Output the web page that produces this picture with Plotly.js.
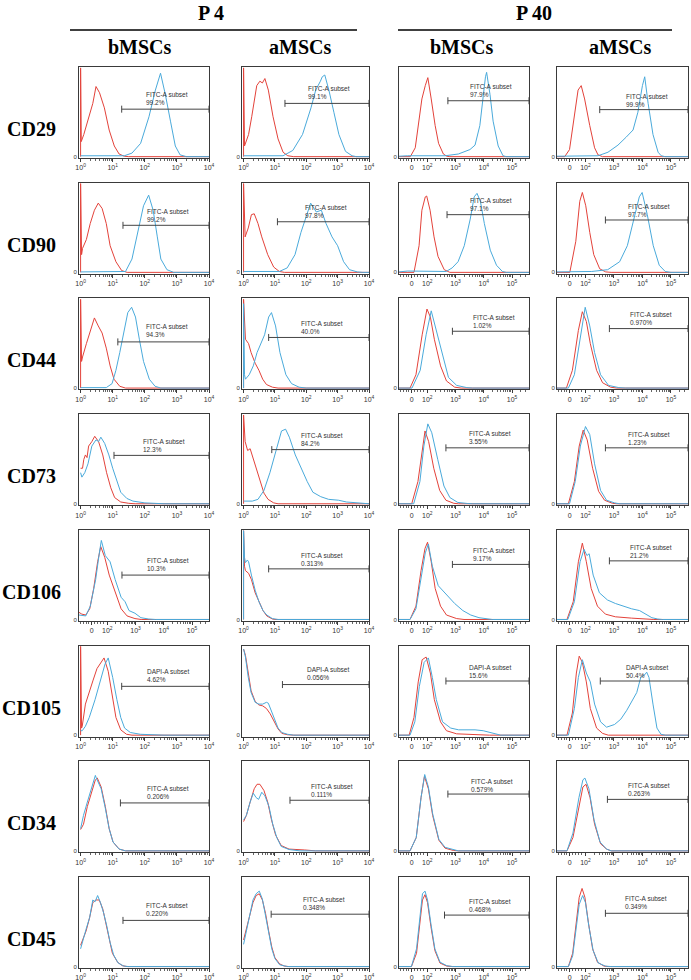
<!DOCTYPE html>
<html>
<head>
<meta charset="utf-8">
<script src="https://cdn.plot.ly/plotly-3.0.1.min.js"></script>
<style>
body { margin: 0; background: #fff; }
#chart { width: 691px; height: 980px; }
</style>
</head>
<body>
<div id="chart"></div>
<script>
var markers = ['CD29', 'CD90', 'CD44', 'CD73', 'CD106', 'CD105', 'CD34', 'CD45'];
var cells = ['bMSCs', 'aMSCs', 'bMSCs', 'aMSCs'];
var passages = ['P 4', 'P 40'];

// axis kind per panel: 'log' = 10^0..10^4, 'bi' = 0, 10^2..10^5
var scales = [
  ['log', 'log', 'bi', 'bi'],
  ['log', 'log', 'bi', 'bi'],
  ['log', 'log', 'bi', 'bi'],
  ['log', 'log', 'bi', 'bi'],
  ['bi', 'log', 'bi', 'bi'],
  ['log', 'log', 'bi', 'bi'],
  ['log', 'log', 'bi', 'bi'],
  ['log', 'log', 'bi', 'bi']
];

var gateNames = ['FITC-A subset', 'FITC-A subset', 'FITC-A subset', 'FITC-A subset',
  'FITC-A subset', 'DAPI-A subset', 'FITC-A subset', 'FITC-A subset'];

var percents = [
  ['99.2%', '99.1%', '97.9%', '99.9%'],
  ['99.2%', '97.8%', '97.1%', '97.7%'],
  ['94.3%', '40.0%', '1.02%', '0.970%'],
  ['12.3%', '84.2%', '3.55%', '1.23%'],
  ['10.3%', '0.313%', '9.17%', '21.2%'],
  ['4.62%', '0.056%', '15.6%', '50.4%'],
  ['0.206%', '0.111%', '0.579%', '0.263%'],
  ['0.220%', '0.348%', '0.468%', '0.349%']
];

// gate start (decades) and gate height (% of max count)
var gateFrom = [
  [1.28, 1.32, 2.73, 2.5],
  [1.32, 1.08, 2.7, 2.7],
  [1.16, 0.8, 2.89, 2.84],
  [1.04, 0.9, 2.66, 2.7],
  [2.52, 0.8, 2.89, 2.84],
  [1.28, 1.24, 2.66, 2.52],
  [1.24, 1.48, 2.73, 2.77],
  [1.32, 0.88, 2.61, 2.7]
];
var gateLevel = [
  [53.5, 60, 63, 53],
  [53, 57, 65, 59],
  [52, 57, 64, 67],
  [54.5, 61, 63, 63],
  [50, 57, 62, 66],
  [55, 57, 61, 61],
  [54, 57, 64, 58],
  [52, 59, 58, 60]
];
var labelX = [
  [1.96, 2.0, 3.44, 3.35],
  [2.0, 1.88, 3.44, 3.44],
  [1.96, 1.76, 3.53, 3.48],
  [1.88, 1.76, 3.39, 3.44],
  [3.35, 1.76, 3.53, 3.48],
  [2.0, 1.96, 3.39, 3.35],
  [2.0, 2.08, 3.48, 3.44],
  [1.96, 1.84, 3.39, 3.3]
];
var labelY = [
  [65, 72, 74, 63],
  [64, 68, 76, 70],
  [65, 68, 75, 78],
  [66, 72, 75, 74],
  [62, 68, 73, 77],
  [67, 69, 72, 72],
  [66, 68, 74, 69],
  [64, 71, 69, 72]
];

// histograms: flat lists of x (decades), count (% of max) pairs
var cd29Red = [
  [0,0, 0,100, 0.02,17, 0.1,25, 0.23,40, 0.38,60, 0.48,79, 0.59,72, 0.74,55, 0.89,30, 1.05,12, 1.2,3, 1.36,0.5, 1.5,0, 4,0],
  [0,0, 0,100, 0.03,12, 0.1,18, 0.16,25, 0.26,45, 0.34,65, 0.42,80, 0.52,85, 0.6,83, 0.68,88, 0.79,75, 0.94,45, 1.1,20, 1.26,5, 1.41,1, 1.6,0, 4,0],
  [1,0, 1.4,0, 1.575,10, 1.69,35, 1.81,65, 1.93,80, 2.02,89, 2.14,65, 2.28,35, 2.4,15, 2.57,3, 2.69,0.5, 2.8,0, 5.6,0],
  [1,0, 1.27,0, 1.44,8, 1.62,50, 1.74,75, 1.85,80, 1.97,65, 2.15,35, 2.32,10, 2.44,2, 2.6,0, 5.6,0]
];
var cd29Blue = [
  [0,1, 1.36,1, 1.6,4, 1.87,15, 2.13,45, 2.33,75, 2.49,94, 2.64,70, 2.8,40, 2.95,12, 3.1,2, 3.3,0, 4,0],
  [0,1, 1.26,1, 1.57,7, 1.88,25, 2.15,55, 2.3,75, 2.45,85, 2.51,90, 2.59,92, 2.72,75, 2.88,50, 3.04,25, 3.25,6, 3.46,1, 3.6,0, 4,0],
  [1,0.5, 1.3,1, 2.63,1, 3.1,3, 3.51,8, 3.69,13, 3.86,35, 3.98,70, 4.06,90, 4.1,95, 4.22,70, 4.33,40, 4.51,12, 4.68,1, 4.8,0, 5.6,0],
  [1,0.5, 2.44,1, 2.79,5, 3.14,13, 3.43,22, 3.67,30, 3.84,50, 4.0,80, 4.08,90, 4.2,60, 4.37,25, 4.55,5, 4.66,1, 4.8,0, 5.6,0]
];
var cd90Red = [
  [0,0, 0,100, 0.03,20, 0.06,27, 0.18,37, 0.3,55, 0.43,70, 0.55,78, 0.67,72, 0.8,55, 0.92,30, 1.1,12, 1.28,2, 1.45,0, 4,0],
  [0,0, 0,100, 0.05,40, 0.15,50, 0.25,65, 0.34,66, 0.46,55, 0.58,40, 0.77,20, 0.96,6, 1.14,1, 1.3,0, 4,0],
  [1,0, 1.53,0, 1.71,30, 1.81,70, 1.93,85, 1.98,86, 2.1,70, 2.24,40, 2.38,18, 2.6,3, 2.8,0, 5.6,0],
  [1,0, 1.45,0, 1.66,35, 1.8,80, 1.89,90, 2.01,75, 2.15,45, 2.29,20, 2.5,4, 2.71,0.5, 2.9,0, 5.6,0]
];
var cd90Blue = [
  [0,0.5, 1.4,1, 1.6,15, 1.77,45, 1.96,75, 2.12,87, 2.26,70, 2.39,40, 2.5,15, 2.69,3, 2.9,0, 4,0],
  [0,1, 1.14,1, 1.39,5, 1.64,20, 1.83,45, 2.01,65, 2.14,78, 2.32,68, 2.48,70, 2.63,55, 2.82,40, 3.0,30, 3.19,12, 3.38,3, 3.63,0.5, 3.8,0, 4,0],
  [1,0.5, 1.3,1.5, 2.67,1, 2.88,5, 3.09,12, 3.31,30, 3.52,60, 3.66,85, 3.76,89, 3.88,80, 4.02,55, 4.23,25, 4.45,8, 4.66,1, 4.8,0, 5.6,0],
  [1,0.5, 2.22,1, 2.78,3, 3.2,12, 3.47,30, 3.69,60, 3.89,85, 3.99,90, 4.17,65, 4.38,30, 4.59,8, 4.8,1, 5.0,0, 5.6,0]
];
var cd44Red = [
  [0,0, 0,100, 0.03,30, 0.06,35, 0.18,50, 0.31,65, 0.43,79, 0.55,70, 0.67,62, 0.8,45, 0.92,25, 1.04,10, 1.22,2, 1.4,0, 4,0],
  [0,0, 0,100, 0.06,55, 0.16,50, 0.24,40, 0.37,28, 0.49,20, 0.61,10, 0.73,4, 0.92,1, 1.1,0, 4,0],
  [1,0, 1.39,0, 1.6,15, 1.82,60, 1.99,89, 2.11,80, 2.25,55, 2.47,25, 2.68,8, 2.97,1, 3.2,0, 5.6,0],
  [1,0, 1.33,0, 1.54,20, 1.75,65, 1.89,86, 2.03,75, 2.17,50, 2.39,20, 2.6,6, 2.88,1, 3.1,0, 5.6,0]
];
var cd44Blue = [
  [0,0.5, 0.8,0.5, 0.98,5, 1.1,20, 1.22,40, 1.35,65, 1.47,85, 1.59,91, 1.71,80, 1.83,55, 1.96,30, 2.14,10, 2.32,2, 2.5,0, 4,0],
  [0,0, 0,95, 0.03,15, 0.06,10, 0.18,15, 0.31,25, 0.43,40, 0.55,50, 0.67,60, 0.8,80, 0.89,85, 1.02,70, 1.16,40, 1.35,15, 1.53,5, 1.77,1, 2.0,0, 4,0],
  [1,0, 1.46,0, 1.75,20, 1.96,60, 2.14,87, 2.32,65, 2.54,35, 2.75,12, 3.04,3, 3.4,0.5, 3.6,0, 5.6,0],
  [1,0, 1.4,0, 1.61,15, 1.82,55, 1.99,91, 2.15,70, 2.32,40, 2.53,15, 2.81,3, 3.17,0.5, 3.4,0, 5.6,0]
];
var cd73Red = [
  [0,40, 0.06,40, 0.1,50, 0.15,55, 0.2,52, 0.25,65, 0.35,70, 0.44,76, 0.56,70, 0.69,55, 0.81,35, 0.94,18, 1.06,7, 1.25,2, 1.5,0.5, 1.7,0, 4,0],
  [0,0, 0,100, 0.05,70, 0.13,60, 0.21,62, 0.3,52, 0.4,40, 0.53,25, 0.65,12, 0.78,5, 0.96,1, 1.1,0, 4,0],
  [1,0, 1.45,0, 1.67,25, 1.81,60, 1.92,82, 2.05,70, 2.23,40, 2.44,15, 2.66,4, 2.94,0.5, 3.1,0, 5.6,0],
  [1,0, 1.4,0, 1.61,25, 1.78,65, 1.92,83, 2.06,72, 2.25,40, 2.46,14, 2.67,4, 2.95,0.5, 3.1,0, 5.6,0]
];
var cd73Blue = [
  [0,35, 0.04,30, 0.13,35, 0.23,45, 0.35,65, 0.48,72, 0.56,70, 0.63,75, 0.75,68, 0.88,55, 1.0,40, 1.13,25, 1.25,13, 1.44,6, 1.63,3, 2.0,1, 2.38,0.3, 2.6,0, 4,0],
  [0,3, 0.28,3, 0.46,5, 0.65,15, 0.84,35, 1.03,60, 1.21,82, 1.34,84, 1.46,75, 1.65,55, 1.84,40, 2.03,25, 2.21,13, 2.46,8, 2.71,5, 3.03,4, 3.28,2, 3.65,1, 3.9,0.3, 4,0],
  [1,0, 1.52,0, 1.74,25, 1.88,65, 2.02,90, 2.16,80, 2.37,50, 2.59,20, 2.8,7, 3.08,1.5, 3.43,0.3, 3.6,0, 5.6,0],
  [1,0, 1.44,0, 1.64,25, 1.82,65, 2.0,87, 2.15,78, 2.32,45, 2.53,15, 2.74,4, 3.02,1, 3.2,0, 5.6,0]
];
var cd106Red = [
  [1,8, 1.1,6, 1.24,5, 1.38,12, 1.52,35, 1.66,65, 1.77,82, 1.91,70, 2.07,50, 2.28,30, 2.49,12, 2.7,4, 2.98,1, 3.2,0, 5.6,0],
  [0,0, 0,100, 0.03,60, 0.06,55, 0.16,52, 0.25,45, 0.37,30, 0.49,20, 0.62,10, 0.74,4, 0.92,0.5, 1.0,0, 4,0],
  [1,0, 1.39,0, 1.6,15, 1.78,55, 1.92,80, 2.01,87, 2.14,65, 2.28,35, 2.47,15, 2.68,5, 3.04,1, 3.3,0, 5.6,0],
  [1,0, 1.35,0, 1.57,20, 1.75,65, 1.89,86, 2.03,65, 2.2,35, 2.42,15, 2.7,6, 3.05,3, 3.62,1.5, 4.18,0.5, 4.4,0, 5.6,0]
];
var cd106Blue = [
  [1,5, 1.24,4, 1.4,15, 1.59,45, 1.72,75, 1.79,89, 1.93,72, 2.1,65, 2.28,45, 2.49,25, 2.63,20, 2.77,10, 2.98,7, 3.19,2, 3.47,0.5, 3.7,0, 5.6,0],
  [0,0, 0,100, 0.03,70, 0.06,64, 0.12,67, 0.16,65, 0.25,50, 0.37,33, 0.49,20, 0.62,10, 0.74,5, 0.92,1, 1.1,0, 4,0],
  [1,0, 1.39,0, 1.6,12, 1.79,50, 1.93,75, 2.04,85, 2.18,60, 2.39,38, 2.68,28, 2.97,18, 3.26,10, 3.54,5, 3.83,2, 4.12,0.5, 4.3,0, 5.6,0],
  [1,0, 1.38,0, 1.61,20, 1.81,65, 1.95,79, 2.05,72, 2.13,74, 2.27,50, 2.49,30, 2.77,22, 3.05,18, 3.34,15, 3.62,12, 3.9,10, 4.11,6, 4.33,2, 4.54,0.5, 4.7,0, 5.6,0]
];
var cd105Red = [
  [0,0, 0,100, 0.03,8, 0.05,10, 0.15,35, 0.27,50, 0.39,62, 0.51,75, 0.64,82, 0.73,87, 0.86,72, 0.98,45, 1.1,20, 1.25,6, 1.43,1, 1.6,0, 4,0],
  [0,97, 0.06,90, 0.15,70, 0.24,50, 0.37,38, 0.49,34, 0.61,33, 0.73,30, 0.85,24, 0.98,15, 1.1,7, 1.22,2, 1.4,0.5, 1.6,0, 4,0],
  [1,0, 1.36,0, 1.53,20, 1.68,60, 1.82,85, 1.96,88, 2.11,70, 2.25,40, 2.47,15, 2.68,5, 3.04,1.5, 3.98,0.5, 4.2,0, 5.6,0],
  [1,0, 1.35,0, 1.54,25, 1.68,70, 1.78,89, 1.89,82, 2.03,60, 2.17,30, 2.39,8, 2.6,2, 2.8,0, 5.6,0]
];
var cd105Blue = [
  [0,5, 0.05,5, 0.15,10, 0.27,20, 0.45,40, 0.64,65, 0.76,80, 0.86,87, 1.0,65, 1.13,40, 1.25,20, 1.37,8, 1.55,3, 1.86,1, 2.35,0.3, 2.6,0, 4,0],
  [0,97, 0.06,88, 0.15,65, 0.24,48, 0.37,37, 0.49,35, 0.61,35, 0.73,37, 0.79,36, 0.88,28, 0.98,17, 1.1,8, 1.22,3, 1.4,1, 1.6,0, 4,0],
  [1,0, 1.39,0, 1.56,15, 1.72,55, 1.89,82, 2.04,87, 2.18,65, 2.32,40, 2.54,15, 2.83,8, 3.11,6, 3.4,6, 3.69,6, 3.98,5, 4.26,3, 4.48,1, 4.6,0, 5.6,0],
  [1,0, 1.4,0, 1.61,30, 1.75,65, 1.89,85, 2.03,70, 2.17,60, 2.32,35, 2.53,15, 2.74,9, 3.02,12, 3.24,18, 3.45,28, 3.66,40, 3.8,48, 3.94,65, 4.08,68, 4.15,71, 4.23,65, 4.37,35, 4.51,8, 4.65,1, 4.8,0, 5.6,0]
];
var cd34Red = [
  [0,24, 0.09,30, 0.21,50, 0.33,65, 0.46,80, 0.52,82, 0.64,72, 0.77,50, 0.89,25, 1.01,10, 1.2,2, 1.4,0, 4,0],
  [0,33, 0.09,40, 0.21,55, 0.34,70, 0.43,75, 0.52,75, 0.65,68, 0.77,55, 0.89,35, 1.02,18, 1.2,6, 1.45,2, 1.95,1, 2.3,0, 4,0],
  [1,0, 1.39,0, 1.61,15, 1.78,60, 1.9,84, 2.04,70, 2.19,40, 2.41,12, 2.63,3, 2.92,0.5, 3.1,0, 5.6,0],
  [1,0, 1.35,0, 1.56,15, 1.77,50, 1.91,72, 2.02,75, 2.16,60, 2.32,30, 2.53,8, 2.74,2, 2.9,0, 5.6,0]
];
var cd34Blue = [
  [0,25, 0.09,40, 0.21,55, 0.33,70, 0.46,85, 0.49,82, 0.54,78, 0.64,70, 0.77,48, 0.89,25, 1.01,10, 1.2,2, 1.4,0, 4,0],
  [0,35, 0.09,40, 0.21,55, 0.31,65, 0.4,60, 0.48,58, 0.58,66, 0.68,62, 0.81,50, 0.93,30, 1.06,15, 1.2,5, 1.45,1.5, 1.8,0, 4,0],
  [1,0, 1.39,0, 1.61,15, 1.78,60, 1.91,86, 2.04,72, 2.19,42, 2.41,13, 2.63,4, 2.92,1, 3.1,0, 5.6,0],
  [1,0, 1.35,0, 1.56,20, 1.77,60, 1.91,80, 1.98,82, 2.12,70, 2.3,35, 2.51,10, 2.74,2, 2.9,0, 5.6,0]
];
var cd45Red = [
  [0,24, 0.07,30, 0.17,40, 0.28,55, 0.38,72, 0.48,75, 0.58,75, 0.69,65, 0.79,48, 0.89,30, 0.99,15, 1.15,5, 1.3,1, 1.45,0, 4,0],
  [0,30, 0.1,45, 0.2,60, 0.3,72, 0.4,80, 0.5,82, 0.6,75, 0.7,60, 0.8,40, 0.9,22, 1.0,10, 1.15,3, 1.3,0.5, 1.45,0, 4,0],
  [1,0, 1.44,0, 1.62,15, 1.74,50, 1.83,75, 1.92,81, 2.01,72, 2.13,45, 2.27,18, 2.45,4, 2.69,0.5, 2.9,0, 5.6,0],
  [1,0, 1.4,0, 1.55,15, 1.68,50, 1.78,78, 1.88,88, 1.98,78, 2.1,50, 2.25,20, 2.42,5, 2.65,0.5, 2.8,0, 5.6,0]
];
var cd45Blue = [
  [0,20, 0.07,28, 0.17,42, 0.28,55, 0.38,75, 0.45,73, 0.53,80, 0.62,72, 0.72,60, 0.82,45, 0.92,27, 1.03,13, 1.17,4, 1.35,0.5, 1.5,0, 4,0],
  [0,25, 0.1,42, 0.2,60, 0.3,75, 0.4,82, 0.5,85, 0.6,76, 0.7,58, 0.8,38, 0.9,20, 1.0,9, 1.15,2, 1.4,0, 4,0],
  [1,0, 1.44,0, 1.62,20, 1.74,60, 1.83,82, 1.92,85, 2.01,75, 2.13,48, 2.27,20, 2.45,5, 2.69,1, 2.9,0, 5.6,0],
  [1,0, 1.4,0, 1.55,12, 1.68,45, 1.78,70, 1.9,80, 2.0,72, 2.12,45, 2.27,18, 2.45,4, 2.7,0.5, 2.9,0, 5.6,0]
];

var redRows = [cd29Red, cd90Red, cd44Red, cd73Red, cd106Red, cd105Red, cd34Red, cd45Red];
var blueRows = [cd29Blue, cd90Blue, cd44Blue, cd73Blue, cd106Blue, cd105Blue, cd34Blue, cd45Blue];

// page geometry (px)
var W = 691, H = 980;
var colLeft = [79, 242, 399, 557];
var colWidth = [130, 127, 130, 131];
var rowTop0 = 67, rowStep = 115.7, panelH = 91;
var RED = '#e3423a', BLUE = '#4aaadb', FRAME = '#3a3a3a';

function px(x) { return x / W; }
function py(y) { return 1 - y / H; }
function split(flat) {
  var xs = [], ys = [];
  for (var i = 0; i < flat.length; i += 2) { xs.push(flat[i]); ys.push(flat[i + 1]); }
  return {x: xs, y: ys};
}
function sup(d) { return '10<sup>' + d + '</sup>'; }

var logMinor = [], biMinor = [];
for (var d = 0; d < 4; d++)
  for (var k = 2; k < 10; k++) logMinor.push(d + Math.log10(k));
for (var t = 1.05; t < 1.95; t += 0.1) biMinor.push(t);
for (var d2 = 2; d2 < 6; d2++)
  for (var k2 = 2; k2 < 10; k2++) if (d2 + Math.log10(k2) < 5.6) biMinor.push(d2 + Math.log10(k2));

var data = [];
var layout = {
  width: W, height: H,
  margin: {l: 0, r: 0, t: 0, b: 0},
  paper_bgcolor: '#fff', plot_bgcolor: '#fff',
  showlegend: false,
  annotations: [], shapes: []
};

var n = 0;
for (var r = 0; r < 8; r++) {
  var rowY = rowTop0 + r * rowStep;
  for (var c = 0; c < 4; c++) {
    n++;
    var s = n === 1 ? '' : String(n);
    var isLog = scales[r][c] === 'log';
    // log panels start a hair left of 10^0 so the first-channel spike shows
    var xmin = isLog ? -0.05 : 1, xmax = isLog ? 4 : 5.6;

    var red = split(redRows[r][c]), blue = split(blueRows[r][c]);
    data.push({x: red.x, y: red.y, xaxis: 'x' + s, yaxis: 'y' + s, mode: 'lines',
      line: {color: RED, width: 1}, hoverinfo: 'skip'});
    data.push({x: blue.x, y: blue.y, xaxis: 'x' + s, yaxis: 'y' + s, mode: 'lines',
      line: {color: BLUE, width: 1}, hoverinfo: 'skip'});
    data.push({x: [gateFrom[r][c], xmax], y: [gateLevel[r][c], gateLevel[r][c]],
      xaxis: 'x' + s, yaxis: 'y' + s, mode: 'lines+markers', cliponaxis: false,
      line: {color: '#444', width: 1},
      marker: {symbol: 'line-ns-open', size: 5, line: {color: '#444', width: 1}},
      hoverinfo: 'skip'});

    layout['xaxis' + s] = {
      domain: [px(colLeft[c]), px(colLeft[c] + colWidth[c])],
      anchor: 'y' + s, range: [xmin, xmax],
      tickmode: 'array',
      tickvals: isLog ? [0, 1, 2, 3, 4] : [1.45, 2, 3, 4, 5],
      ticktext: isLog ? [sup(0), sup(1), sup(2), sup(3), sup(4)] : ['0', sup(2), sup(3), sup(4), sup(5)],
      ticks: 'outside', ticklen: 3, tickwidth: 1, tickcolor: FRAME,
      tickfont: {family: 'Arial, Liberation Sans', size: 7, color: '#333'},
      minor: {tickmode: 'array', tickvals: isLog ? logMinor : biMinor,
        ticks: 'outside', ticklen: 2, tickwidth: 1, tickcolor: '#666', showgrid: false},
      showline: true, linecolor: FRAME, linewidth: 1, mirror: true,
      showgrid: false, zeroline: false, fixedrange: true
    };
    layout['yaxis' + s] = {
      domain: [py(rowY + panelH), py(rowY)],
      anchor: 'x' + s, range: [-1.5, 101],
      tickmode: 'array', tickvals: [0], ticktext: ['0'], ticks: '',
      tickfont: {family: 'Arial, Liberation Sans', size: 6, color: '#333'},
      showline: true, linecolor: FRAME, linewidth: 1, mirror: true,
      showgrid: false, zeroline: false, fixedrange: true
    };

    layout.annotations.push({
      xref: 'x' + s, yref: 'y' + s, x: labelX[r][c], y: labelY[r][c],
      xanchor: 'left', yanchor: 'middle', align: 'left', showarrow: false,
      text: gateNames[r] + '<br>' + percents[r][c],
      font: {family: 'Arial, Liberation Sans', size: 6.5, color: '#333'}
    });
  }
  layout.annotations.push({
    xref: 'paper', yref: 'paper', x: px(31), y: py(rowY + 62),
    xanchor: 'center', yanchor: 'middle', showarrow: false, text: '<b>' + markers[r] + '</b>',
    font: {family: 'Liberation Serif, Times New Roman, serif', size: 20, color: '#000'}
  });
}

var headX = [140, 300, 462, 620];
for (var h = 0; h < 4; h++) {
  layout.annotations.push({
    xref: 'paper', yref: 'paper', x: px(headX[h]), y: py(47),
    xanchor: 'center', yanchor: 'middle', showarrow: false, text: '<b>' + cells[h] + '</b>',
    font: {family: 'Liberation Serif, Times New Roman, serif', size: 20, color: '#000'}
  });
}
var passX = [211, 534], lineFrom = [70, 398], lineTo = [357, 672];
for (var p = 0; p < 2; p++) {
  layout.annotations.push({
    xref: 'paper', yref: 'paper', x: px(passX[p]), y: py(13),
    xanchor: 'center', yanchor: 'middle', showarrow: false, text: '<b>' + passages[p] + '</b>',
    font: {family: 'Liberation Serif, Times New Roman, serif', size: 20, color: '#000'}
  });
  layout.shapes.push({type: 'line', xref: 'paper', yref: 'paper',
    x0: px(lineFrom[p]), x1: px(lineTo[p]), y0: py(30), y1: py(30),
    line: {color: '#000', width: 1.5}});
}

Plotly.newPlot('chart', data, layout, {staticPlot: true});
</script>
</body>
</html>
